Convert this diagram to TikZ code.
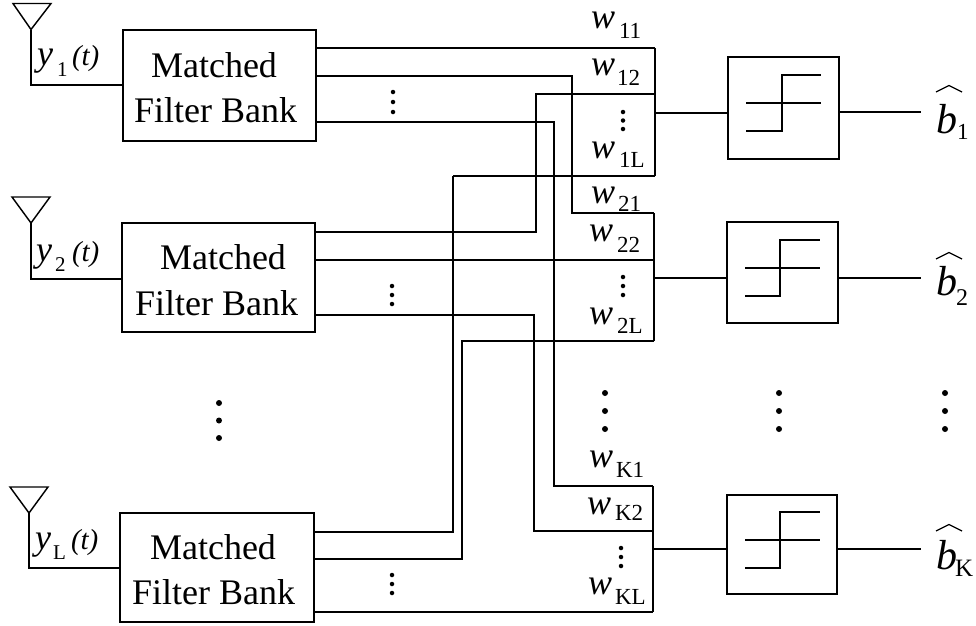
\documentclass[tikz,border=0pt]{standalone}
\usepackage{fontspec}
\setmainfont{Liberation Serif}
\newcommand{\fs}[1]{\fontsize{#1}{#1}\selectfont}
\newcommand{\wlab}[6]{%
  \node[txt,font=\fs{36}\itshape] (w#1) at (#2,#3) {w};
  \node[txt,font=\fs{23}] (ws#1) at (#4,#5) {#6};}
\newcommand{\ylab}[7]{%
  \node[txt,font=\fs{36}\itshape] (y#1) at (#2,#3) {y};
  \node[txt,font=\fs{21}] (ys#1) at (#4,#5) {#1};
  \node[txt,font=\fs{29}\itshape] (yt#1) at (#6,#7) {(t)};}
\newcommand{\bhat}[8]{%
  \node[txt,font=\fs{42}\itshape] (b#1) at (#2,#3) {b};
  \node[txt,font=\fs{#6}] (bs#1) at (#4,#5) {#1};
  \coordinate (ha#1) at (#2,#7);
  \coordinate (hb#1) at (#2+13,#7-6.5);
  \coordinate (hc#1) at (#2+26,#7);
  \draw[hatline] (ha#1) -- (hb#1) -- (hc#1);}
\newcommand{\vdotz}[5]{%
  \node[dotn,minimum size=#2pt] (#1a) at (#3,#4) {};
  \node[dotn,minimum size=#2pt] (#1b) at (#3,{#4+#5}) {};
  \node[dotn,minimum size=#2pt] (#1c) at (#3,{#4+2*#5}) {};}
\newcommand{\antenna}[6]{%
  \coordinate (an#1l) at (#2,#4);
  \coordinate (an#1r) at (#3,#4);
  \coordinate (an#1t) at (#5,#4+26);
  \coordinate (an#1b) at (#5,#6);
  \draw[wire,line join=miter] (an#1l) -- (an#1r) -- (an#1t) -- cycle;
  \draw[wire] (an#1t) -- (an#1b) -- (mf#1.west |- an#1b);}
\newcommand{\decider}[9]{%
  \node[box,minimum width=#4pt,minimum height=#5pt] (dec#1) at (#2,#3) {};
  \coordinate (s#1a) at (#6,#9);
  \coordinate (s#1b) at (#7,#9);
  \coordinate (s#1c) at (#7,#9-56);
  \coordinate (s#1d) at (#8,#9-56);
  \coordinate (m#1a) at (#6,#9-28);
  \coordinate (m#1b) at (#8,#9-28);
  \draw[wire] (s#1a) -- (s#1b) -- (s#1c) -- (s#1d);
  \draw[wire] (m#1a) -- (m#1b);}
\tikzset{
  x=1pt,y=-1pt,
  wire/.style={draw=black,line width=1.45pt,line join=miter},
  heavy/.style={draw=black,line width=2pt,line join=miter},
  box/.style={draw=black,line width=1.7pt,inner sep=0pt,fill=none},
  txt/.style={inner sep=0pt,outer sep=0pt,anchor=base west,text=black},
  mfa/.style={inner sep=0pt,outer sep=0pt,anchor=base,text=black,font=\fs{36}},
  hatline/.style={draw=black,line width=1.2pt,line join=miter},
  dotn/.style={circle,fill=black,draw=none,inner sep=0pt},
}
\begin{document}
\begin{tikzpicture}
\useasboundingbox (0,0) rectangle (976,625);
% matched filter banks
\node[box,minimum width=193pt,minimum height=111pt] (mf1) at (219.5,85.5) {};
\node[box,minimum width=193pt,minimum height=109pt] (mf2) at (218.5,277.5) {};
\node[box,minimum width=194pt,minimum height=109pt] (mfL) at (217,567.5) {};
\node[mfa] (t1a) at (214,77) {Matched};
\node[mfa] (t1b) at (215.5,122.5) {Filter Bank};
\node[mfa] (t2a) at (223,269) {Matched};
\node[mfa] (t2b) at (216.5,315) {Filter Bank};
\node[mfa] (tLa) at (213,559) {Matched};
\node[mfa] (tLb) at (213.5,604) {Filter Bank};
% antennas
\antenna{1}{13}{51}{3.5}{31}{85}
\antenna{2}{12}{50}{197}{31}{279}
\antenna{L}{10}{48}{487}{29}{568}
\ylab{1}{37}{65}{57}{76}{72}{65}
\ylab{2}{36}{261}{55}{271}{72}{261}
\ylab{L}{35}{549}{53}{559}{71}{549}
% junction points of the weight blocks
\coordinate (r1) at (655,48);
\coordinate (r1m) at (655,94);
\coordinate (r1o) at (655,113);
\coordinate (r1b) at (655,176);
\coordinate (r2) at (654,213);
\coordinate (r2m) at (654,260);
\coordinate (r2o) at (654,278);
\coordinate (r2b) at (654,341);
\coordinate (rK) at (653,486);
\coordinate (rKm) at (653,531);
\coordinate (rKo) at (653,549);
\coordinate (rKb) at (653,612);
% block outlines
\draw[wire] (r1) -- (r1m) -- (r1o) -- (r1b);
\draw[wire] (r2) -- (r2m) -- (r2o) -- (r2b);
\draw[wire] (rK) -- (rKm) -- (rKo) -- (rKb);
% wiring, bank 1
\draw[wire] (mf1.east |- r1) -- (r1);
\coordinate (c12a) at (572,76);
\coordinate (c12b) at (572,213);
\draw[wire] (mf1.east |- c12a) -- (c12a) -- (c12b) -- (r2);
\coordinate (c13a) at (554,122);
\coordinate (c13b) at (554,486);
\draw[wire] (mf1.east |- c13a) -- (c13a) -- (c13b) -- (rK);
% wiring, bank 2
\coordinate (c21a) at (536,94);
\coordinate (c21b) at (536,232);
\draw[heavy] (r1m) -- (c21a) -- (c21b) -- (mf2.east |- c21b);
\draw[wire] (mf2.east |- r2m) -- (r2m);
\coordinate (c23a) at (534,315);
\coordinate (c23b) at (534,531);
\draw[heavy] (mf2.east |- c23a) -- (c23a) -- (c23b) -- (rKm);
% wiring, bank L
\coordinate (cL1a) at (453,176);
\coordinate (cL1b) at (453,532);
\draw[heavy] (r1b) -- (cL1a);
\draw[wire] (cL1a) -- (cL1b) -- (mfL.east |- cL1b);
\coordinate (cL2a) at (462,341);
\coordinate (cL2b) at (462,559);
\draw[heavy] (r2b) -- (cL2a) -- (cL2b) -- (mfL.east |- cL2b);
\draw[wire] (mfL.east |- rKb) -- (rKb);
% deciders
\decider{1}{783.5}{108}{111}{102}{746}{782}{821}{131}
\decider{2}{782.5}{272.5}{111}{101}{745}{780}{820}{296}
\decider{K}{782}{544.5}{110}{99}{745}{780}{820}{568}
\coordinate (o1) at (921,112);
\coordinate (o2) at (921,278);
\coordinate (oK) at (921,549);
\draw[wire] (r1o) -- (dec1.west |- r1o);
\draw[wire] (dec1.east |- o1) -- (o1);
\draw[wire] (r2o) -- (dec2.west |- r2o);
\draw[wire] (dec2.east |- o2) -- (o2);
\draw[wire] (rKo) -- (decK.west |- rKo);
\draw[wire] (decK.east |- oK) -- (oK);
% weight labels
\wlab{11}{591}{28}{619}{38}{11}
\wlab{12}{591}{75}{617}{85}{12}
\wlab{1L}{591}{158}{619}{167}{1L}
\wlab{21}{591}{203}{618}{211}{21}
\wlab{22}{589}{241}{617}{252}{22}
\wlab{2L}{589}{324}{617}{333}{2L}
\wlab{K1}{589}{467}{616}{477}{K1}
\wlab{K2}{587}{514}{615}{520}{K2}
\wlab{KL}{588}{594}{615}{604}{KL}
% outputs
\bhat{1}{936}{133}{957}{139}{23}{92}{}
\bhat{2}{936}{295}{956}{305}{24}{259}{}
\bhat{K}{936}{569}{955}{576}{25}{531}{}
% dots
\vdotz{da}{4.5}{393}{92}{10}
\vdotz{db}{4.5}{623}{112}{8.5}
\vdotz{dc}{4.5}{392}{286}{9}
\vdotz{dd}{4.5}{623}{277}{9}
\vdotz{de}{4.5}{392}{575}{9}
\vdotz{df}{4.5}{621}{548}{9}
\vdotz{dg}{6}{219}{403}{17.5}
\vdotz{dh}{6}{605}{393}{18}
\vdotz{di}{6}{779}{393}{18}
\vdotz{dj}{6}{945}{393}{18}
\end{tikzpicture}
\end{document}
